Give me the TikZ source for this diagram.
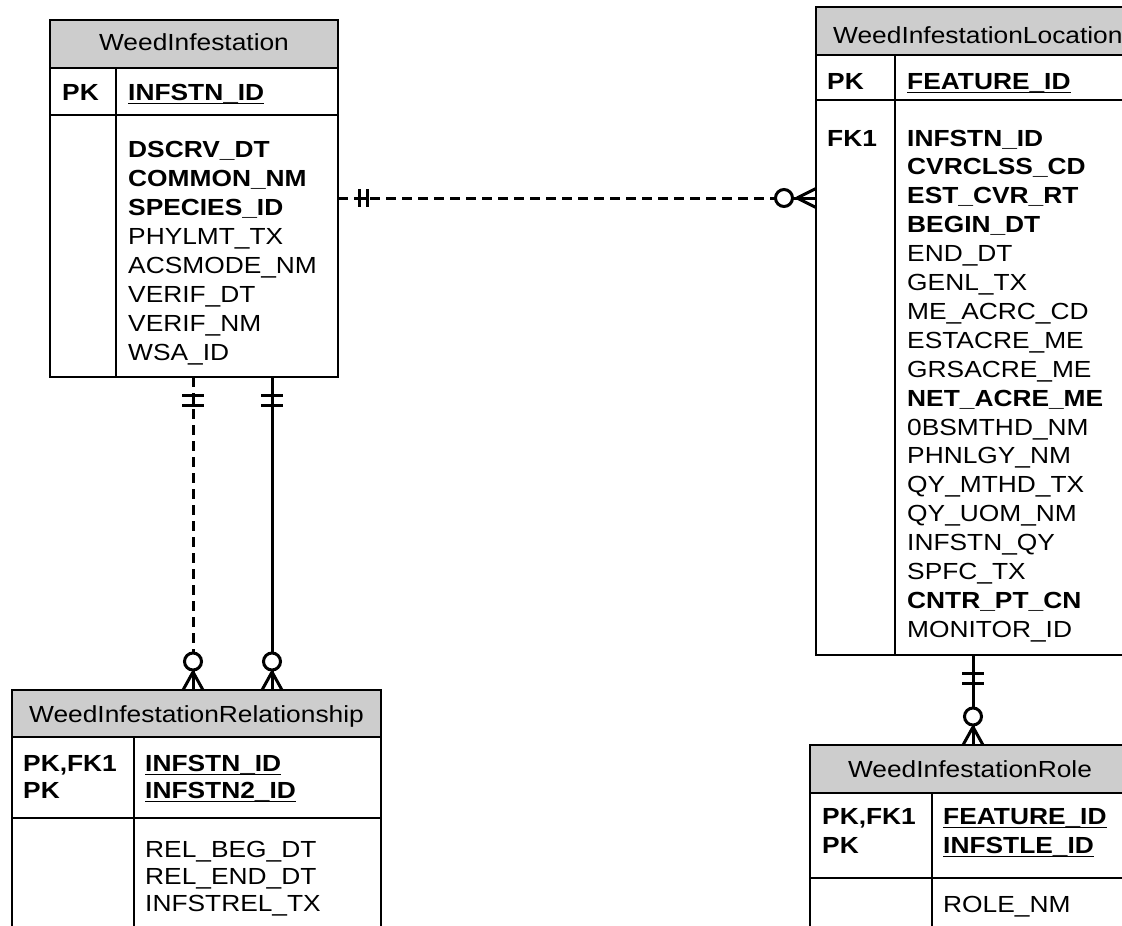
\documentclass[tikz,border=0pt]{standalone}
\usepackage{fontspec}
\setmainfont{Liberation Sans}[FakeStretch=1.13]
\usetikzlibrary{calc}
\definecolor{headgray}{RGB}{205,205,205}
\begin{document}
\begin{tikzpicture}[x=1pt,y=-1pt,
  tbl/.style={draw, line width=2pt, inner sep=0pt, outer sep=0pt, anchor=north west},
  hdr/.style={tbl, fill=headgray},
  rule/.style={line width=2pt},
  txt/.style={anchor=base west, inner sep=0pt, font=\fontsize{23.3}{28.9}\selectfont},
  ttl/.style={anchor=base, inner sep=0pt, font=\fontsize{23.3}{28.9}\selectfont},
  relline/.style={line width=3pt},
  reldash/.style={relline, dash pattern=on 10pt off 6pt},
]
\useasboundingbox (0,0) rectangle (1122,926);
\clip (0,0) rectangle (1122,926);

% ---------- WeedInfestation ----------
\node[hdr, minimum width=288pt, minimum height=48pt] (wiH) at (50,20) {};
\node[tbl, minimum width=288pt, minimum height=309pt] (wi) at (50,68) {};
\draw[rule] (50,115) -- (338,115);
\draw[rule] (116,68) -- (116,377);
\node[ttl] (wiT) at (194,50.5) {WeedInfestation};
\node[txt] (wiPK) at (62,100) {\textbf{PK}};
\node[txt] (wiK1) at (128,100) {\textbf{INFSTN\_ID}};
\draw[line width=1.8pt] ([yshift=-3.5pt]wiK1.base west) -- ([yshift=-3.5pt]wiK1.base east);
\foreach \t [count=\i from 0] in {\textbf{DSCRV\_DT}, \textbf{COMMON\_NM},
  \textbf{SPECIES\_ID}, PHYLMT\_TX, ACSMODE\_NM, VERIF\_DT, VERIF\_NM, WSA\_ID}
  \node[txt] (wi-a\i) at (128,{157.7+\i*28.9}) {\t};

% ---------- WeedInfestationLocation ----------
\node[hdr, minimum width=324pt, minimum height=48pt] (locH) at (816,7) {};
\node[tbl, minimum width=324pt, minimum height=600pt] (loc) at (816,55) {};
\draw[rule] (816,100) -- (1140,100);
\draw[rule] (895,55) -- (895,655);
\node[txt] (locT) at (833,43) {WeedInfestationLocation};
\node[txt] (locPK) at (827,89) {\textbf{PK}};
\node[txt] (locK1) at (907,89) {\textbf{FEATURE\_ID}};
\draw[line width=1.8pt] ([yshift=-3.5pt]locK1.base west) -- ([yshift=-3.5pt]locK1.base east);
\node[txt] (locFK) at (827,146) {\textbf{FK1}};
\foreach \t [count=\i from 0] in {\textbf{INFSTN\_ID}, \textbf{CVRCLSS\_CD},
  \textbf{EST\_CVR\_RT}, \textbf{BEGIN\_DT}, END\_DT, GENL\_TX, ME\_ACRC\_CD,
  ESTACRE\_ME, GRSACRE\_ME, \textbf{NET\_ACRE\_ME}, 0BSMTHD\_NM, PHNLGY\_NM,
  QY\_MTHD\_TX, QY\_UOM\_NM, INFSTN\_QY, SPFC\_TX, \textbf{CNTR\_PT\_CN}, MONITOR\_ID}
  \node[txt] (loc-a\i) at (907,{146+\i*28.9}) {\t};

% ---------- WeedInfestationRelationship ----------
\node[hdr, minimum width=369pt, minimum height=47pt] (relH) at (12,690) {};
\node[tbl, minimum width=369pt, minimum height=210pt] (rel) at (12,737) {};
\draw[rule] (12,818) -- (381,818);
\draw[rule] (134,737) -- (134,940);
\node[ttl] (relT) at (196.5,722) {WeedInfestationRelationship};
\node[txt] (relPK1) at (23,771) {\textbf{PK,FK1}};
\node[txt] (relPK2) at (23,798) {\textbf{PK}};
\node[txt] (relK1) at (145,771) {\textbf{INFSTN\_ID}};
\node[txt] (relK2) at (145,798) {\textbf{INFSTN2\_ID}};
\draw[line width=1.8pt] ([yshift=-3.5pt]relK1.base west) -- ([yshift=-3.5pt]relK1.base east);
\draw[line width=1.8pt] ([yshift=-3.5pt]relK2.base west) -- ([yshift=-3.5pt]relK2.base east);
\foreach \t [count=\i from 0] in {REL\_BEG\_DT, REL\_END\_DT, INFSTREL\_TX}
  \node[txt] (rel-a\i) at (145,{857+\i*27}) {\t};

% ---------- WeedInfestationRole ----------
\node[hdr, minimum width=320pt, minimum height=48pt] (roleH) at (810,745) {};
\node[tbl, minimum width=320pt, minimum height=160pt] (role) at (810,793) {};
\draw[rule] (810,878) -- (1130,878);
\draw[rule] (932,793) -- (932,950);
\node[ttl] (roleT) at (970,777) {WeedInfestationRole};
\node[txt] (rolePK1) at (822,824) {\textbf{PK,FK1}};
\node[txt] (rolePK2) at (822,853) {\textbf{PK}};
\node[txt] (roleK1) at (943,824) {\textbf{FEATURE\_ID}};
\node[txt] (roleK2) at (943,853) {\textbf{INFSTLE\_ID}};
\draw[line width=1.8pt] ([yshift=-3.5pt]roleK1.base west) -- ([yshift=-3.5pt]roleK1.base east);
\draw[line width=1.8pt] ([yshift=-3.5pt]roleK2.base west) -- ([yshift=-3.5pt]roleK2.base east);
\node[txt] (role-a0) at (943,912) {ROLE\_NM};

% ---------- relationships ----------
% WeedInfestation -> WeedInfestationLocation (one to zero-or-many, dashed)
\coordinate (r1s) at ([yshift=-130pt]wi.north east);
\coordinate (r1e) at ([yshift=-143pt]loc.north west);
\draw[reldash] (r1s) -- ($(r1e)+(-40.5,0)$);
\draw[relline] ($(r1s)+(21,0)$) -- ($(r1s)+(29,0)$);
\draw[relline] ($(r1s)+(21,-9)$) -- ($(r1s)+(21,9)$);
\draw[relline] ($(r1s)+(29,-9)$) -- ($(r1s)+(29,9)$);
\draw[relline] ($(r1e)+(-32,0)$) circle[radius=8.5pt];
\draw[relline] ($(r1e)+(-23.5,0)$) -- (r1e);
\draw[relline] ($(r1e)+(-19,0)$) -- ($(r1e)+(0,-9.5)$);
\draw[relline] ($(r1e)+(-19,0)$) -- ($(r1e)+(0,9.5)$);

% WeedInfestation -> WeedInfestationRelationship (dashed)
\coordinate (r2s) at ([xshift=143pt]wi.south west);
\coordinate (r2e) at ([xshift=181pt]relH.north west);
% WeedInfestation -> WeedInfestationRelationship (solid)
\coordinate (r3s) at ([xshift=222pt]wi.south west);
\coordinate (r3e) at ([xshift=260pt]relH.north west);
% WeedInfestationLocation -> WeedInfestationRole (solid)
\coordinate (r4s) at ([xshift=157pt]loc.south west);
\coordinate (r4e) at ([xshift=163pt]roleH.north west);

\draw[reldash] (r2s) -- ($(r2e)+(0,-37)$);
\draw[relline] (r3s) -- ($(r3e)+(0,-37)$);
\draw[relline] (r4s) -- ($(r4e)+(0,-37)$);

\foreach \s/\e in {r2s/r2e, r3s/r3e, r4s/r4e} {
  \draw[relline] ($(\s)+(0,18)$) -- ($(\s)+(0,28)$);
  \draw[relline] ($(\s)+(-11,18)$) -- ($(\s)+(11,18)$);
  \draw[relline] ($(\s)+(-11,28)$) -- ($(\s)+(11,28)$);
  \draw[relline] ($(\e)+(0,-28.5)$) circle[radius=8.5pt];
  \draw[relline] ($(\e)+(0,-20)$) -- (\e);
  \draw[relline] ($(\e)+(0,-18)$) -- ($(\e)+(-10,0)$);
  \draw[relline] ($(\e)+(0,-18)$) -- ($(\e)+(10,0)$);
}
\end{tikzpicture}
\end{document}
